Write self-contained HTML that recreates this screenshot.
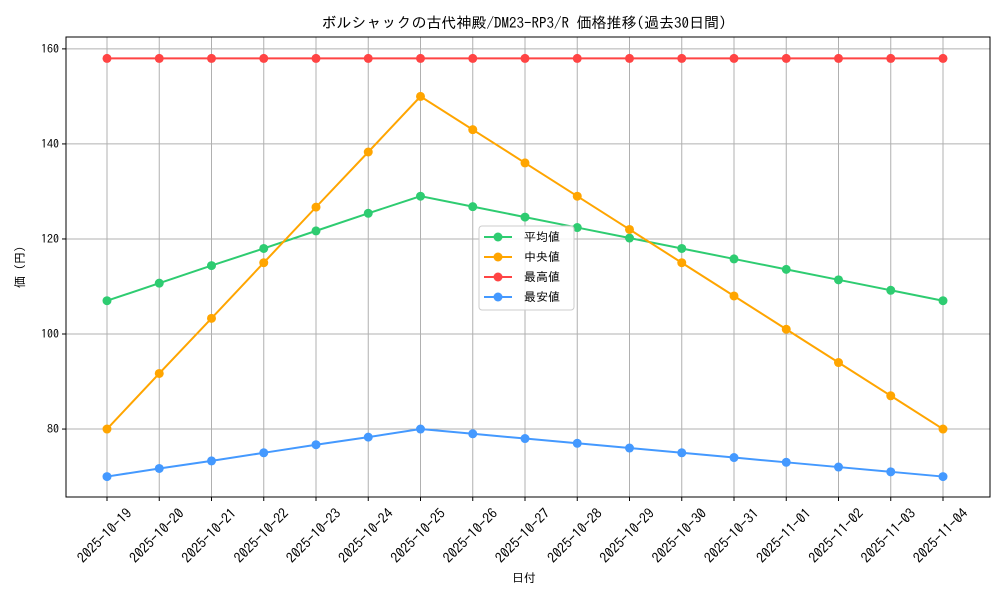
<!DOCTYPE html>
<html><head><meta charset="utf-8"><style>
body{margin:0;background:#fff;}
svg text{font-family:"IPAGothic","Liberation Sans","Noto Sans CJK JP",sans-serif;fill:#000;}
</style></head><body>
<svg id="chart" width="1000" height="600" xmlns="http://www.w3.org/2000/svg">
<rect width="1000" height="600" fill="#fff"/>
<text x="524" y="28" text-anchor="middle" font-size="15">ボルシャックの古代神殿/DM23-RP3/R 価格推移(過去30日間)</text>
<g id="grid"></g><g id="axes"></g><g id="series"></g>
<text x="524" y="582" text-anchor="middle" font-size="12">日付</text>
<text transform="translate(24,267) rotate(-90)" text-anchor="middle" font-size="12">価 (円)</text>
<g id="legend"></g>
</svg>
<script>
const categories=["2025-10-19","2025-10-20","2025-10-21","2025-10-22","2025-10-23","2025-10-24","2025-10-25","2025-10-26","2025-10-27","2025-10-28","2025-10-29","2025-10-30","2025-10-31","2025-11-01","2025-11-02","2025-11-03","2025-11-04"];
const avgValues=[107,110.7,114.4,118,121.7,125.4,129,126.8,124.6,122.4,120.2,118,115.8,113.6,111.4,109.2,107];
const medianValues=[80,91.7,103.3,115,126.7,138.3,150,143,136,129,122,115,108,101,94,87,80];
const maxValues=[158,158,158,158,158,158,158,158,158,158,158,158,158,158,158,158,158];
const minValues=[70,71.7,73.3,75,76.7,78.3,80,79,78,77,76,75,74,73,72,71,70];
const yTicks=[80,100,120,140,160];
const seriesNames=["平均値","中央値","最高値","最安値"];
const NS="http://www.w3.org/2000/svg";
const L=66,R=990,T=37,B=497;
const yMin=65.7,yMax=162.5;
function x(i){return 107+i*(943-107)/(categories.length-1);}
function y(v){return B-(v-yMin)/(yMax-yMin)*(B-T);}
function mk(tag,attrs,parent){const e=document.createElementNS(NS,tag);for(const k in attrs)e.setAttribute(k,attrs[k]);parent.appendChild(e);return e;}
const grid=document.getElementById('grid'),axes=document.getElementById('axes'),ser=document.getElementById('series'),leg=document.getElementById('legend');
categories.forEach((c,i)=>{
  const g=mk('line',{x1:x(i),x2:x(i),y1:T,y2:B,stroke:'#b0b0b0','stroke-width':1},grid);
  
  
  mk('line',{x1:x(i),x2:x(i),y1:B,y2:B+4,stroke:'#000'},axes);
  const t=mk('text',{'font-size':14,'text-anchor':'middle',transform:`translate(${x(i)+1},${B+42}) rotate(-45)`},axes);
  t.textContent=c;
  
  
});
yTicks.forEach(v=>{
  const g=mk('line',{x1:L,x2:R,y1:y(v),y2:y(v),stroke:'#b0b0b0','stroke-width':1},grid);
  
  
  mk('line',{x1:L-4,x2:L,y1:y(v),y2:y(v),stroke:'#000'},axes);
  const t=mk('text',{x:L-7,y:y(v)+4,'font-size':12,'text-anchor':'end'},axes);
  t.textContent=v;
  
  
});
mk('rect',{x:L,y:T,width:R-L,height:B-T,fill:'none',stroke:'#000','stroke-width':1},axes);
const all=[[avgValues,'#2ecc71','average'],[medianValues,'#ffa500','median'],[maxValues,'#ff4444','max'],[minValues,'#4499ff','min']];
all.forEach(([vals,col,nm])=>{
  const p=mk('polyline',{points:vals.map((v,i)=>x(i)+','+y(v)).join(' '),fill:'none',stroke:col,'stroke-width':2},ser);
  
  
  vals.forEach((v,i)=>{
    const c=mk('circle',{cx:x(i),cy:y(v),r:4.5,fill:col},ser);
    
    
  });
});
mk('rect',{x:479,y:226,width:95,height:84,rx:3,fill:'#fff','fill-opacity':0.85,stroke:'#ccc'},leg);
all.forEach(([v,col,nm],k)=>{
  const yy=237+k*20;
  mk('line',{x1:484,x2:512,y1:yy,y2:yy,stroke:col,'stroke-width':2},leg);
  mk('circle',{cx:498,cy:yy,r:4.5,fill:col},leg);
  const t=mk('text',{x:524,y:yy+4,'font-size':12},leg);
  t.textContent=seriesNames[k];
  
  
});
</script>
</body></html>
